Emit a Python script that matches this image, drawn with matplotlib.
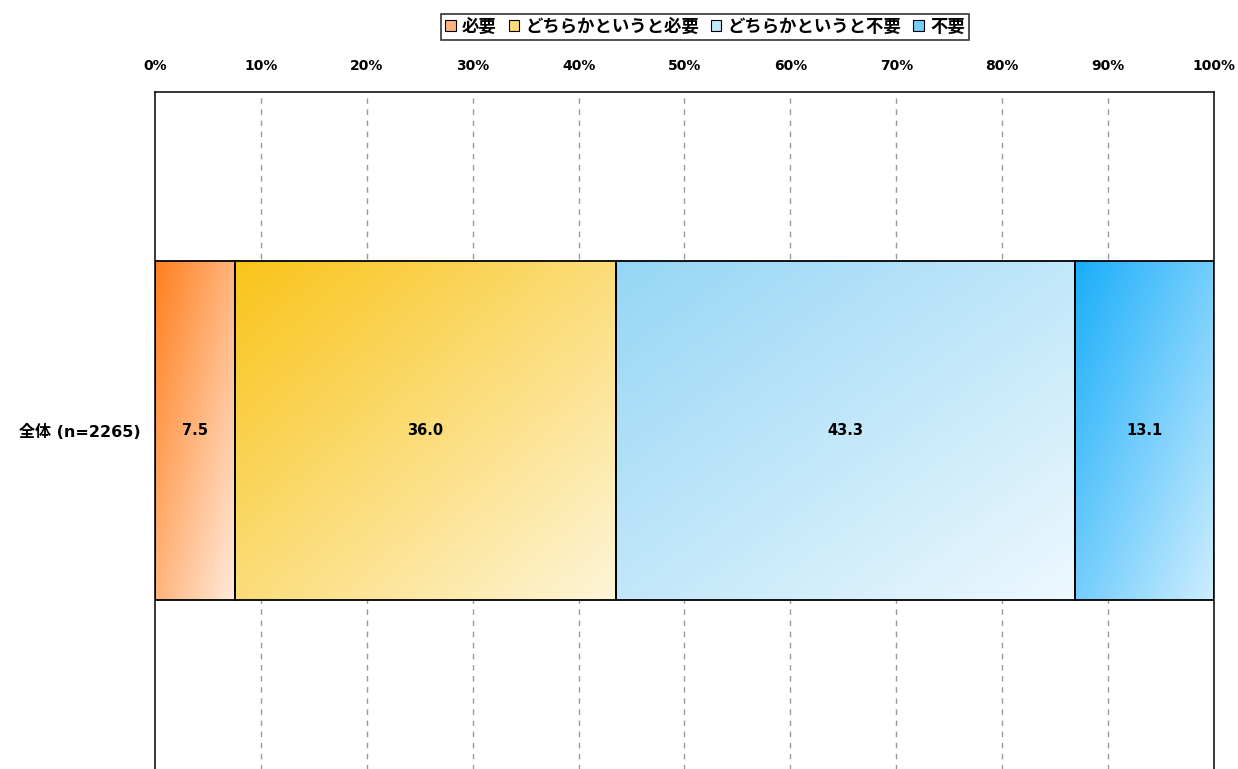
import numpy as np
import matplotlib
matplotlib.use('Agg')
import matplotlib.pyplot as plt
from matplotlib.colors import to_rgb
from matplotlib.patches import Rectangle, Patch

plt.rcParams['font.family'] = ['DejaVu Sans', 'Noto Sans CJK JP']

# data
category = '全体 (n=2265)'
labels = ['必要', 'どちらかというと必要', 'どちらかというと不要', '不要']
values = [7.5, 36.0, 43.3, 13.1]
# gradient start (top-left) and end (bottom-right) colours
color_start = ['#FF7F1E', '#F9C41A', '#96D6F5', '#1AAEFA']
color_end = ['#FFEADB', '#FEF5D8', '#EDF8FE', '#CDEDFE']
ticks = np.arange(0, 101, 10)
tick_labels = [f'{t}%' for t in ticks]

fig = plt.figure(figsize=(12.38, 7.69), dpi=100)
ax = fig.add_axes([155 / 1238, -4 / 769, (1214 - 155) / 1238, (769 - 92 + 4) / 769])

total = sum(values)
widths = [v / total * 100 for v in values]
lefts = np.concatenate([[0], np.cumsum(widths)[:-1]])

bar_h = 1.0
y0 = -bar_h / 2
n = 64
u = np.linspace(0, 1, n)
uu, vv = np.meshgrid(u, u)
t = (uu + vv) / 2

for left, w, v, c0, c1 in zip(lefts, widths, values, color_start, color_end):
    a = np.array(to_rgb(c0))
    b = np.array(to_rgb(c1))
    img = a[None, None, :] * (1 - t[..., None]) + b[None, None, :] * t[..., None]
    # origin upper: row 0 is the top of the bar
    ax.imshow(img, extent=(left, left + w, y0, y0 + bar_h), origin='upper',
              aspect='auto', interpolation='bilinear', zorder=2)
    ax.add_patch(Rectangle((left, y0), w, bar_h, fill=False, edgecolor='black',
                           linewidth=1.3, zorder=3))
    ax.text(left + w / 2, 0.0, f'{v:.1f}', ha='center', va='center',
            fontsize=10.5, fontweight='bold', zorder=4)

ax.set_xlim(0, 100)
ax.set_ylim(-1.01, 1)
ax.set_xticks(ticks)
ax.set_xticklabels(tick_labels, fontsize=10, fontweight='bold')
ax.xaxis.tick_top()
ax.tick_params(axis='x', length=0, pad=14)
ax.set_yticks([0])
ax.set_yticklabels([category], fontsize=11.5, fontweight='bold')
ax.tick_params(axis='y', length=0, pad=10)

for x in ticks[1:-1]:
    ax.axvline(x, color='#999999', linestyle=(0, (4, 4)), linewidth=1, zorder=1)

for side in ['left', 'right', 'top']:
    ax.spines[side].set_color('black')
    ax.spines[side].set_linewidth(1.1)
ax.spines['bottom'].set_visible(False)

handles = [Patch(facecolor=((np.array(to_rgb(c0)) + np.array(to_rgb(c1))) / 2),
                 edgecolor='black', linewidth=0.8)
           for c0, c1 in zip(color_start, color_end)]
leg = fig.legend(handles, labels, loc='center', bbox_to_anchor=(705 / 1238, 1 - 27 / 769),
                 ncol=4, frameon=True, fancybox=False, edgecolor='black',
                 handlelength=0.6, handleheight=0.6, handletextpad=0.35,
                 columnspacing=0.7, borderpad=0.25, borderaxespad=0,
                 prop={'family': ['Noto Sans CJK JP'], 'weight': 'bold', 'size': 12.5})
leg.get_frame().set_linewidth(1.2)

fig.savefig('out.png', dpi=100)
